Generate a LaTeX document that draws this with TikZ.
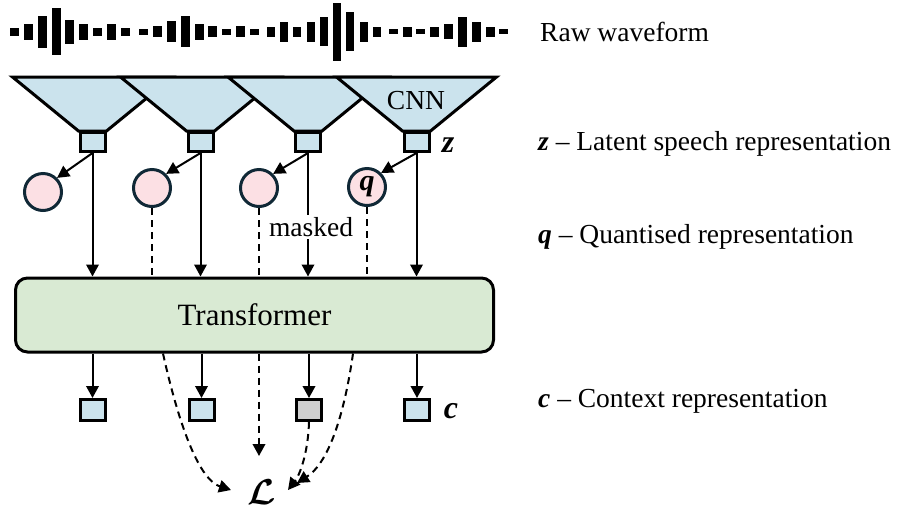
\RequirePackage{fix-cm}
\documentclass[tikz,border=0pt]{standalone}
\usepackage{fontspec}
\setmainfont{Liberation Serif}
\usepackage{amsmath}
\usepackage{bm}
\usetikzlibrary{arrows.meta,calc}

\definecolor{cnnblue}{RGB}{203,227,237}
\definecolor{qpink}{RGB}{252,224,228}
\definecolor{trgreen}{RGB}{217,234,211}
\definecolor{maskgray}{RGB}{208,208,208}
\definecolor{qring}{RGB}{16,40,54}

\newcommand\txtsize{\fontsize{27.5}{33}\selectfont}
\newcommand\lblsize{\fontsize{32}{36}\selectfont}

\begin{document}
\begin{tikzpicture}[x=1pt,y=-1pt,
  cnn/.style={draw, line width=3pt, fill=cnnblue},
  zbox/.style={draw, line width=3pt, fill=cnnblue, minimum width=25pt,
    minimum height=19pt, inner sep=0pt},
  cbox/.style={draw, line width=3pt, fill=cnnblue, minimum width=25pt,
    minimum height=21pt, inner sep=0pt},
  qcirc/.style={circle, draw=qring, line width=3pt, fill=qpink,
    minimum size=37pt, inner sep=0pt},
  conn/.style={line width=2pt, -{Triangle[length=12pt,width=12.5pt]}},
  dashline/.style={line width=2pt, dash pattern=on 7pt off 5pt},
  dashconn/.style={dashline, -{Triangle[length=12pt,width=12.5pt]}},
  legend/.style={anchor=base west, font=\txtsize, inner sep=0pt}
]
\useasboundingbox (0,0) rectangle (901,507);

% raw waveform bars
\foreach \xa/\xb/\ya/\yb in {
  10/19/28/36, 24/33/24/40, 38/47/16/48, 52/61/8/55, 65/74/20/44,
  79/88/24/40, 93/102/28/36, 107/116/24/40, 121/130/28/36, 139/148/29/35,
  153/162/26/37, 167/176/21/42, 181/190/16/47, 195/204/24/40, 208/217/26/37,
  222/231/29/35, 236/245/26/37, 250/259/29/35, 267/275/27/37, 280/288/22/42,
  293/301/27/37, 307/315/22/42, 320/328/17/46, 333/341/3/61, 346/354/12/51,
  360/368/22/42, 373/381/27/37, 389/398/29/34, 403/412/27/37, 416/425/29/34,
  430/439/27/37, 444/453/24/39, 458/467/17/47, 472/481/22/42, 486/495/27/37,
  499/508/29/34}
  \fill (\xa,\ya) rectangle (\xb,\yb);
\node[legend] (raw) at (540,41) {Raw waveform};

% CNN feature encoders (drawn left to right so each overlaps the previous)
\foreach \cx in {92.5,200.5,308,416.5}
  \draw[cnn] (\cx-80,77) -- (\cx+80,77) -- (\cx+14,131) -- (\cx-14,131) -- cycle;
\node[anchor=base, font=\txtsize, inner sep=0pt] (cnnlbl) at (416,109) {CNN};

% latent representations z
\node[zbox] (z1) at (92.5,142) {};
\node[zbox] (z2) at (200.5,142) {};
\node[zbox] (z3) at (308,142) {};
\node[zbox] (z4) at (416.5,142) {};
\node[font=\lblsize\bfseries\itshape] (zlbl) at (448,145) {z};

% quantised representations q
\node[qcirc] (q1) at (43,192) {};
\node[qcirc] (q2) at (152,188) {};
\node[qcirc] (q3) at (259,188) {};
\node[qcirc, font=\fontsize{30}{32}\selectfont\bfseries\itshape] (q4) at (367,187) {q};

% transformer
\node[draw, line width=3pt, fill=trgreen, rounded corners=12pt,
  minimum width=478pt, minimum height=74pt, inner sep=0pt,
  font=\fontsize{31}{36}\selectfont] (tr) at (254.5,315) {Transformer};

% context representations c
\node[cbox] (c1) at (92.5,410) {};
\node[cbox] (c2) at (201.5,410) {};
\node[cbox, fill=maskgray] (c3) at (309,410) {};
\node[cbox] (c4) at (417,410) {};
\node[font=\lblsize\bfseries\itshape] (clbl) at (451,411) {c};

% contrastive loss
\node[inner sep=0pt, font=\fontsize{36}{40}\selectfont] (loss) at (262,492) {$\bm{\mathcal{L}}$};

% z -> q
\draw[conn] (z1.south) -- (q1.north east);
\draw[conn] (z2.south) -- (q2.north east);
\draw[conn] (z3.south) -- (q3.north east);
\draw[conn] (z4.south) -- (q4.north east);

% z -> transformer
\draw[conn] (z1.south) -- (z1.south |- tr.north);
\draw[conn] (z2.south) -- (z2.south |- tr.north);
\draw[conn] (z3.south) -- node[pos=0.6, fill=white, inner sep=2pt, xshift=3pt,
  font=\txtsize] (masklbl) {masked} (z3.south |- tr.north);
\draw[conn] (z4.south) -- (z4.south |- tr.north);

% q -> transformer (dashed)
\draw[dashline] (q2.south) -- (q2.south |- tr.north);
\draw[dashline] (q3.south) -- (q3.south |- tr.north);
\draw[dashline] (q4.south) -- (q4.south |- tr.north);

% transformer -> c
\draw[conn] (c1.north |- tr.south) -- (c1.north);
\draw[conn] (c2.north |- tr.south) -- (c2.north);
\draw[conn] (c3.north |- tr.south) -- (c3.north);
\draw[conn] (c4.north |- tr.south) -- (c4.north);

% paths into the loss
\coordinate (ta) at (163,353.5);
\coordinate (tb) at (259,353.5);
\coordinate (tc) at (353,353.5);
\coordinate (lossup) at (259,456);
\draw[dashconn] (ta) .. controls (180,430) and (200,480) .. ($(loss.center)+(-31,-2)$);
\draw[dashconn] (tb) -- (lossup);
\draw[dashconn] (c3.south) .. controls (308,455) and (299,476) .. ($(loss.center)+(26,-2)$);
\draw[dashconn] (tc) .. controls (345,410) and (330,462) .. ($(loss.center)+(35,-9)$);

% legend
\node[legend] (zleg) at (538,150) {{\bfseries\itshape z} -- Latent speech representation};
\node[legend] (qleg) at (538,243) {{\bfseries\itshape q} -- Quantised representation};
\node[legend] (cleg) at (538,407) {{\bfseries\itshape c} -- Context representation};
\end{tikzpicture}
\end{document}
